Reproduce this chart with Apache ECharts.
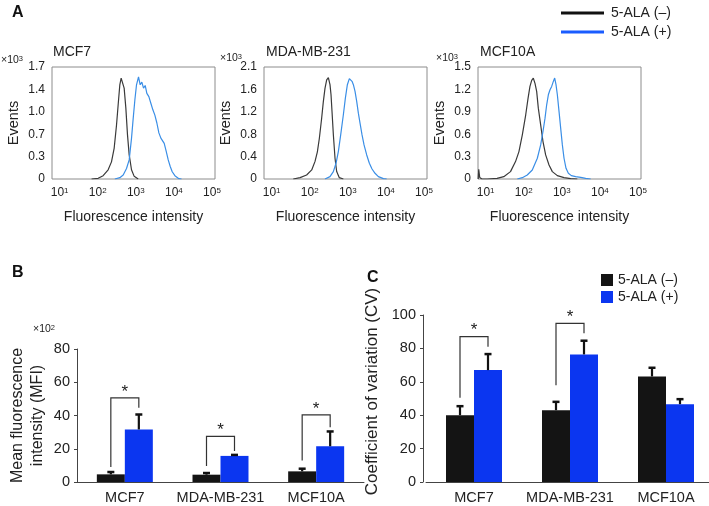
<!DOCTYPE html>
<html><head><meta charset="utf-8">
<script src="https://cdn.jsdelivr.net/npm/echarts@6/dist/echarts.min.js"></script>
<style>html,body{margin:0;padding:0;background:#fff}#c{width:709px;height:506px}</style>
</head><body><div id="c"></div>
<script>
const FONT = '"Liberation Sans", Arial, Helvetica, sans-serif';
const NEG = '5-ALA (–)', POS = '5-ALA (+)';

// ---------- Panel A: flow cytometry histograms ----------
const histTitles = ['MCF7', 'MDA-MB-231', 'MCF10A'];
const histYMax = [1.7, 2.1, 1.5];
const histYLabels = [
  ['0', '0.3', '0.7', '1.0', '1.4', '1.7'],
  ['0', '0.4', '0.8', '1.2', '1.6', '2.1'],
  ['0', '0.3', '0.6', '0.9', '1.2', '1.5']
];
const xTickValues = [10, 100, 1000, 10000, 100000];
const xTickExp = ['1', '2', '3', '4', '5'];

const mcf7Neg = [[69,0],[103,0.01],[139,0.05],[188,0.14],[230,0.26],[271,0.47],[312,0.82],[345,1.13],[381,1.43],[413,1.53],[448,1.51],[495,1.38],[548,1.08],[606,0.67],[670,0.37],[772,0.14],[908,0.04],[1156,0]];
const mcf7Pos = [[282,0],[381,0.02],[467,0.06],[571,0.16],[671,0.29],[773,0.62],[855,0.92],[946,1.2],[1045,1.43],[1180,1.55],[1305,1.43],[1443,1.47],[1596,1.38],[1766,1.42],[1953,1.3],[2205,1.25],[2486,1.15],[2808,1.05],[3170,0.97],[3578,0.85],[4038,0.7],[4558,0.62],[5043,0.61],[5579,0.54],[6298,0.42],[7108,0.29],[8023,0.19],[9056,0.11],[10640,0.05],[13550,0.005],[15920,0]];
const mdaNeg = [[37,0],[56,0.025],[83,0.075],[113,0.17],[138,0.33],[159,0.51],[179,0.76],[206,1.14],[228,1.45],[252,1.7],[279,1.86],[309,1.9],[341,1.77],[363,1.58],[385,1.27],[418,0.83],[462,0.39],[511,0.14],[600,0.025],[764,0]];
const mdaPos = [[252,0],[341,0.044],[418,0.138],[491,0.295],[565,0.514],[651,0.827],[765,1.204],[864,1.517],[975,1.768],[1100,1.881],[1192,1.906],[1292,1.831],[1402,1.768],[1550,1.643],[1714,1.455],[1895,1.235],[2097,1.047],[2367,0.827],[2672,0.639],[3139,0.451],[3687,0.295],[4331,0.188],[5196,0.107],[6358,0.044],[8610,0.006],[10520,0]];
const mcf10aNeg = [[6.4,0],[6.6,0.13],[7.0,0.02],[8,0],[11,0],[20,0.009],[30,0.031],[45,0.099],[61,0.233],[75,0.367],[92,0.591],[113,0.86],[130,1.08],[146,1.24],[162,1.32],[179,1.35],[198,1.28],[219,1.173],[242,0.949],[279,0.725],[321,0.502],[377,0.323],[462,0.188],[565,0.099],[764,0.045],[1145,0.018],[1714,0.004],[2566,0]];
const mcf10aPos = [[68,0],[92,0.018],[124,0.054],[168,0.121],[228,0.278],[279,0.457],[321,0.636],[363,0.815],[401,0.994],[444,1.128],[491,1.196],[543,1.24],[600,1.307],[651,1.352],[705,1.263],[765,1.128],[846,0.905],[935,0.681],[1035,0.457],[1145,0.278],[1292,0.143],[1488,0.076],[1783,0.045],[2317,0.031],[3139,0.022],[4249,0.009],[5754,0]];
const histNeg = [mcf7Neg, mdaNeg, mcf10aNeg];
const histPos = [mcf7Pos, mdaPos, mcf10aPos];

// ---------- Panel B / C: bar charts ----------
const cellLines = ['MCF7', 'MDA-MB-231', 'MCF10A'];
const mfiNeg = [4.6, 4.4, 6.4];
const mfiNegSD = [1.4, 1.0, 1.6];
const mfiPos = [31.6, 15.7, 21.5];
const mfiPosSD = [9.0, 0.6, 8.9];
const mfiBracketCat = [0, 1, 2];
const mfiBracketY = [50.6, 27.5, 40.4];
const mfiBracketLeft = [9.0, 9.6, 13.0];
const mfiBracketRight = [44.6, 18.6, 33.0];

const cvNeg = [40.0, 43.0, 63.2];
const cvNegSD = [5.4, 5.0, 5.2];
const cvPos = [67.0, 76.4, 46.6];
const cvPosSD = [9.6, 8.2, 3.0];
const cvBracketCat = [0, 1];
const cvBracketY = [87.0, 95.0];
const cvBracketLeft = [50.4, 58.0];
const cvBracketRight = [81.0, 89.0];

const BAR_W = 28;
const BLACK_BAR = '#141414', BLUE_BAR = '#0b36f0';
const HIST_BLACK = '#3a3a3a', HIST_BLUE = '#3a8ee6';

const histGrids = [
  {left: 52, top: 67, width: 163, height: 112},
  {left: 264, top: 67, width: 163, height: 112},
  {left: 478, top: 67, width: 163, height: 112}
];

const grids = histGrids.map(g => Object.assign({show: true, borderColor: '#8c8c8c', borderWidth: 1, backgroundColor: 'transparent', outerBoundsMode: 'none', containLabel: false}, g));
grids.push({left: 77, top: 349, width: 287, height: 133, outerBoundsMode: 'none', containLabel: false});
grids.push({left: 426, top: 315, width: 288, height: 167, outerBoundsMode: 'none', containLabel: false});

const xAxes = [], yAxes = [];
for (let k = 0; k < 3; k++) {
  xAxes.push({
    type: 'log', gridIndex: k, logBase: 10, min: 6.31, max: 120226,
    axisLine: {show: false}, axisTick: {show: false}, splitLine: {show: false},
    axisLabel: {
      customValues: xTickValues, fontSize: 12, color: '#222', margin: 8,
      formatter: function (v) {
        const idx = xTickValues.findIndex(t => Math.abs(t - v) / t < 1e-6);
        return idx < 0 ? '' : '10{s|' + xTickExp[idx] + '}';
      },
      rich: {s: {fontSize: 8, verticalAlign: 'top', color: '#222', padding: [0, 0, 4, 0]}}
    },
    name: 'Fluorescence intensity', nameLocation: 'middle', nameGap: 31,
    nameTextStyle: {fontSize: 14, color: '#222'}
  });
  const step = histYMax[k] / 5;
  yAxes.push({
    type: 'value', gridIndex: k, min: 0, max: histYMax[k], interval: step,
    axisLine: {show: false}, axisTick: {show: false}, splitLine: {show: false},
    axisLabel: {fontSize: 12, color: '#222', margin: 7,
      formatter: v => histYLabels[k][Math.round(v / step)]},
    name: 'Events', nameLocation: 'middle', nameGap: 31,
    nameTextStyle: {fontSize: 14.5, color: '#222'}
  });
}
const barX = (gi) => ({
  type: 'category', gridIndex: gi, data: cellLines,
  axisLine: {show: true, lineStyle: {color: '#444', width: 1}},
  axisTick: {show: false},
  axisLabel: {fontSize: 14.5, color: '#222', margin: 8, interval: 0}
});
const barY = (gi, max, name, gap, fs, pad, off) => ({
  type: 'value', gridIndex: gi, min: 0, max: max, interval: 20, offset: off,
  axisLine: {show: true, lineStyle: {color: '#444', width: 1}},
  axisTick: {show: true, length: 3, lineStyle: {color: '#444'}},
  splitLine: {show: false},
  axisLabel: {fontSize: 14.5, color: '#222', margin: 7},
  name: name, nameLocation: 'middle', nameGap: gap,
  nameTextStyle: {fontSize: fs, color: '#222', lineHeight: 20, padding: pad}
});
xAxes.push(barX(3)); yAxes.push(barY(3, 80, 'Mean fluorescence\nintensity (MFI)', 29, 16, 0, 0));
xAxes.push(barX(4)); yAxes.push(barY(4, 100, 'Coefficient of variation (CV)', 41, 17, [0, 0, 0, 14], 3));

function errRender(params, api) {
  const i = api.value(0), mean = api.value(1), sd = api.value(2), side = api.value(3);
  const p0 = api.coord([i, mean]);
  const p1 = api.coord([i, mean + sd]);
  const x = p0[0] + side * BAR_W / 2;
  return {type: 'group', children: [
    {type: 'line', shape: {x1: x, y1: p0[1], x2: x, y2: p1[1]}, style: {stroke: '#111', lineWidth: 2.2}},
    {type: 'line', shape: {x1: x - 3.5, y1: p1[1], x2: x + 3.5, y2: p1[1]}, style: {stroke: '#111', lineWidth: 2.5}}
  ]};
}
function bracketRender(params, api) {
  const i = api.value(0);
  const c = api.coord([i, api.value(1)]);
  const l = api.coord([i, api.value(2)]);
  const r = api.coord([i, api.value(3)]);
  const xl = c[0] - BAR_W / 2, xr = c[0] + BAR_W / 2;
  return {type: 'group', children: [
    {type: 'polyline', shape: {points: [[xl, l[1]], [xl, c[1]], [xr, c[1]], [xr, r[1]]]},
     style: {stroke: '#333', lineWidth: 1.2, fill: null}},
    {type: 'text', x: c[0], y: c[1] - 6,
     style: {text: '*', fontSize: 17, fontFamily: FONT, align: 'center', verticalAlign: 'middle', fill: '#222'}}
  ]};
}
const errData = (neg, negSD, pos, posSD) => {
  const d = [];
  for (let i = 0; i < neg.length; i++) { d.push([i, neg[i], negSD[i], -1]); d.push([i, pos[i], posSD[i], 1]); }
  return d;
};
const brData = (cat, y, l, r) => cat.map((c, j) => [c, y[j], l[j], r[j]]);

const series = [];
series.push({name: NEG, type: 'bar', xAxisIndex: 3, yAxisIndex: 3, data: mfiNeg, barWidth: BAR_W, barGap: '0%', itemStyle: {color: BLACK_BAR}});
series.push({name: POS, type: 'bar', xAxisIndex: 3, yAxisIndex: 3, data: mfiPos, barWidth: BAR_W, barGap: '0%', itemStyle: {color: BLUE_BAR}});
series.push({name: NEG, type: 'bar', xAxisIndex: 4, yAxisIndex: 4, data: cvNeg, barWidth: BAR_W, barGap: '0%', itemStyle: {color: BLACK_BAR}});
series.push({name: POS, type: 'bar', xAxisIndex: 4, yAxisIndex: 4, data: cvPos, barWidth: BAR_W, barGap: '0%', itemStyle: {color: BLUE_BAR}});
series.push({type: 'custom', xAxisIndex: 3, yAxisIndex: 3, renderItem: errRender, data: errData(mfiNeg, mfiNegSD, mfiPos, mfiPosSD), z: 5, encode: {x: 0, y: 1}});
series.push({type: 'custom', xAxisIndex: 4, yAxisIndex: 4, renderItem: errRender, data: errData(cvNeg, cvNegSD, cvPos, cvPosSD), z: 5, encode: {x: 0, y: 1}});
series.push({type: 'custom', xAxisIndex: 3, yAxisIndex: 3, renderItem: bracketRender, data: brData(mfiBracketCat, mfiBracketY, mfiBracketLeft, mfiBracketRight), z: 6, encode: {x: 0, y: 1}});
series.push({type: 'custom', xAxisIndex: 4, yAxisIndex: 4, renderItem: bracketRender, data: brData(cvBracketCat, cvBracketY, cvBracketLeft, cvBracketRight), z: 6, encode: {x: 0, y: 1}});
for (let k = 0; k < 3; k++) {
  series.push({name: NEG, type: 'line', xAxisIndex: k, yAxisIndex: k, data: histNeg[k], showSymbol: false, symbol: 'none',
    lineStyle: {color: HIST_BLACK, width: 1.2}, itemStyle: {color: HIST_BLACK}, z: 3});
  series.push({name: POS, type: 'line', xAxisIndex: k, yAxisIndex: k, data: histPos[k], showSymbol: false, symbol: 'none',
    lineStyle: {color: HIST_BLUE, width: 1.2}, itemStyle: {color: HIST_BLUE}, z: 3});
}

const supRich = {s: {fontSize: 7.5, verticalAlign: 'top', color: '#222'}};
const option = {
  animation: false,
  backgroundColor: '#fff',
  textStyle: {fontFamily: FONT},
  title: [
    {text: 'A', left: 12, top: 5, padding: 0, textStyle: {fontSize: 16, fontWeight: 'bold', color: '#111', fontFamily: FONT}},
    {text: 'B', left: 12, top: 265, padding: 0, textStyle: {fontSize: 16, fontWeight: 'bold', color: '#111', fontFamily: FONT}},
    {text: 'C', left: 367, top: 270, padding: 0, textStyle: {fontSize: 16, fontWeight: 'bold', color: '#111', fontFamily: FONT}},
    {text: histTitles[0], left: 53, top: 45, padding: 0, textStyle: {fontSize: 14, fontWeight: 'normal', color: '#222', fontFamily: FONT}},
    {text: histTitles[1], left: 266, top: 45, padding: 0, textStyle: {fontSize: 14, fontWeight: 'normal', color: '#222', fontFamily: FONT}},
    {text: histTitles[2], left: 480, top: 45, padding: 0, textStyle: {fontSize: 14, fontWeight: 'normal', color: '#222', fontFamily: FONT}},
    {text: '×10{s|3}', left: 1, top: 55, padding: 0, textStyle: {fontSize: 10.5, fontWeight: 'normal', color: '#222', fontFamily: FONT, rich: supRich}},
    {text: '×10{s|3}', left: 220, top: 53, padding: 0, textStyle: {fontSize: 10.5, fontWeight: 'normal', color: '#222', fontFamily: FONT, rich: supRich}},
    {text: '×10{s|3}', left: 436, top: 53, padding: 0, textStyle: {fontSize: 10.5, fontWeight: 'normal', color: '#222', fontFamily: FONT, rich: supRich}},
    {text: '×10{s|2}', left: 33, top: 324, padding: 0, textStyle: {fontSize: 10.5, fontWeight: 'normal', color: '#222', fontFamily: FONT, rich: supRich}}
  ],
  legend: [
    {left: 561, top: 6, padding: 0, orient: 'vertical', itemWidth: 43, itemHeight: 3, itemGap: 5, icon: 'rect', selectedMode: false,
     textStyle: {fontSize: 14, color: '#222', fontFamily: FONT, padding: [0, 0, 0, 2]},
     data: [{name: NEG, itemStyle: {color: '#111'}}, {name: POS, itemStyle: {color: '#1a5cff'}}]},
    {left: 601, top: 273, padding: 0, orient: 'vertical', itemWidth: 12, itemHeight: 12, itemGap: 3, icon: 'rect', selectedMode: false,
     textStyle: {fontSize: 14, color: '#222', fontFamily: FONT},
     data: [{name: NEG, itemStyle: {color: BLACK_BAR}}, {name: POS, itemStyle: {color: BLUE_BAR}}]}
  ],
  grid: grids,
  xAxis: xAxes,
  yAxis: yAxes,
  series: series
};
const chart = echarts.init(document.getElementById('c'), null, {renderer: 'canvas'});
chart.setOption(option);
</script>
</body></html>
